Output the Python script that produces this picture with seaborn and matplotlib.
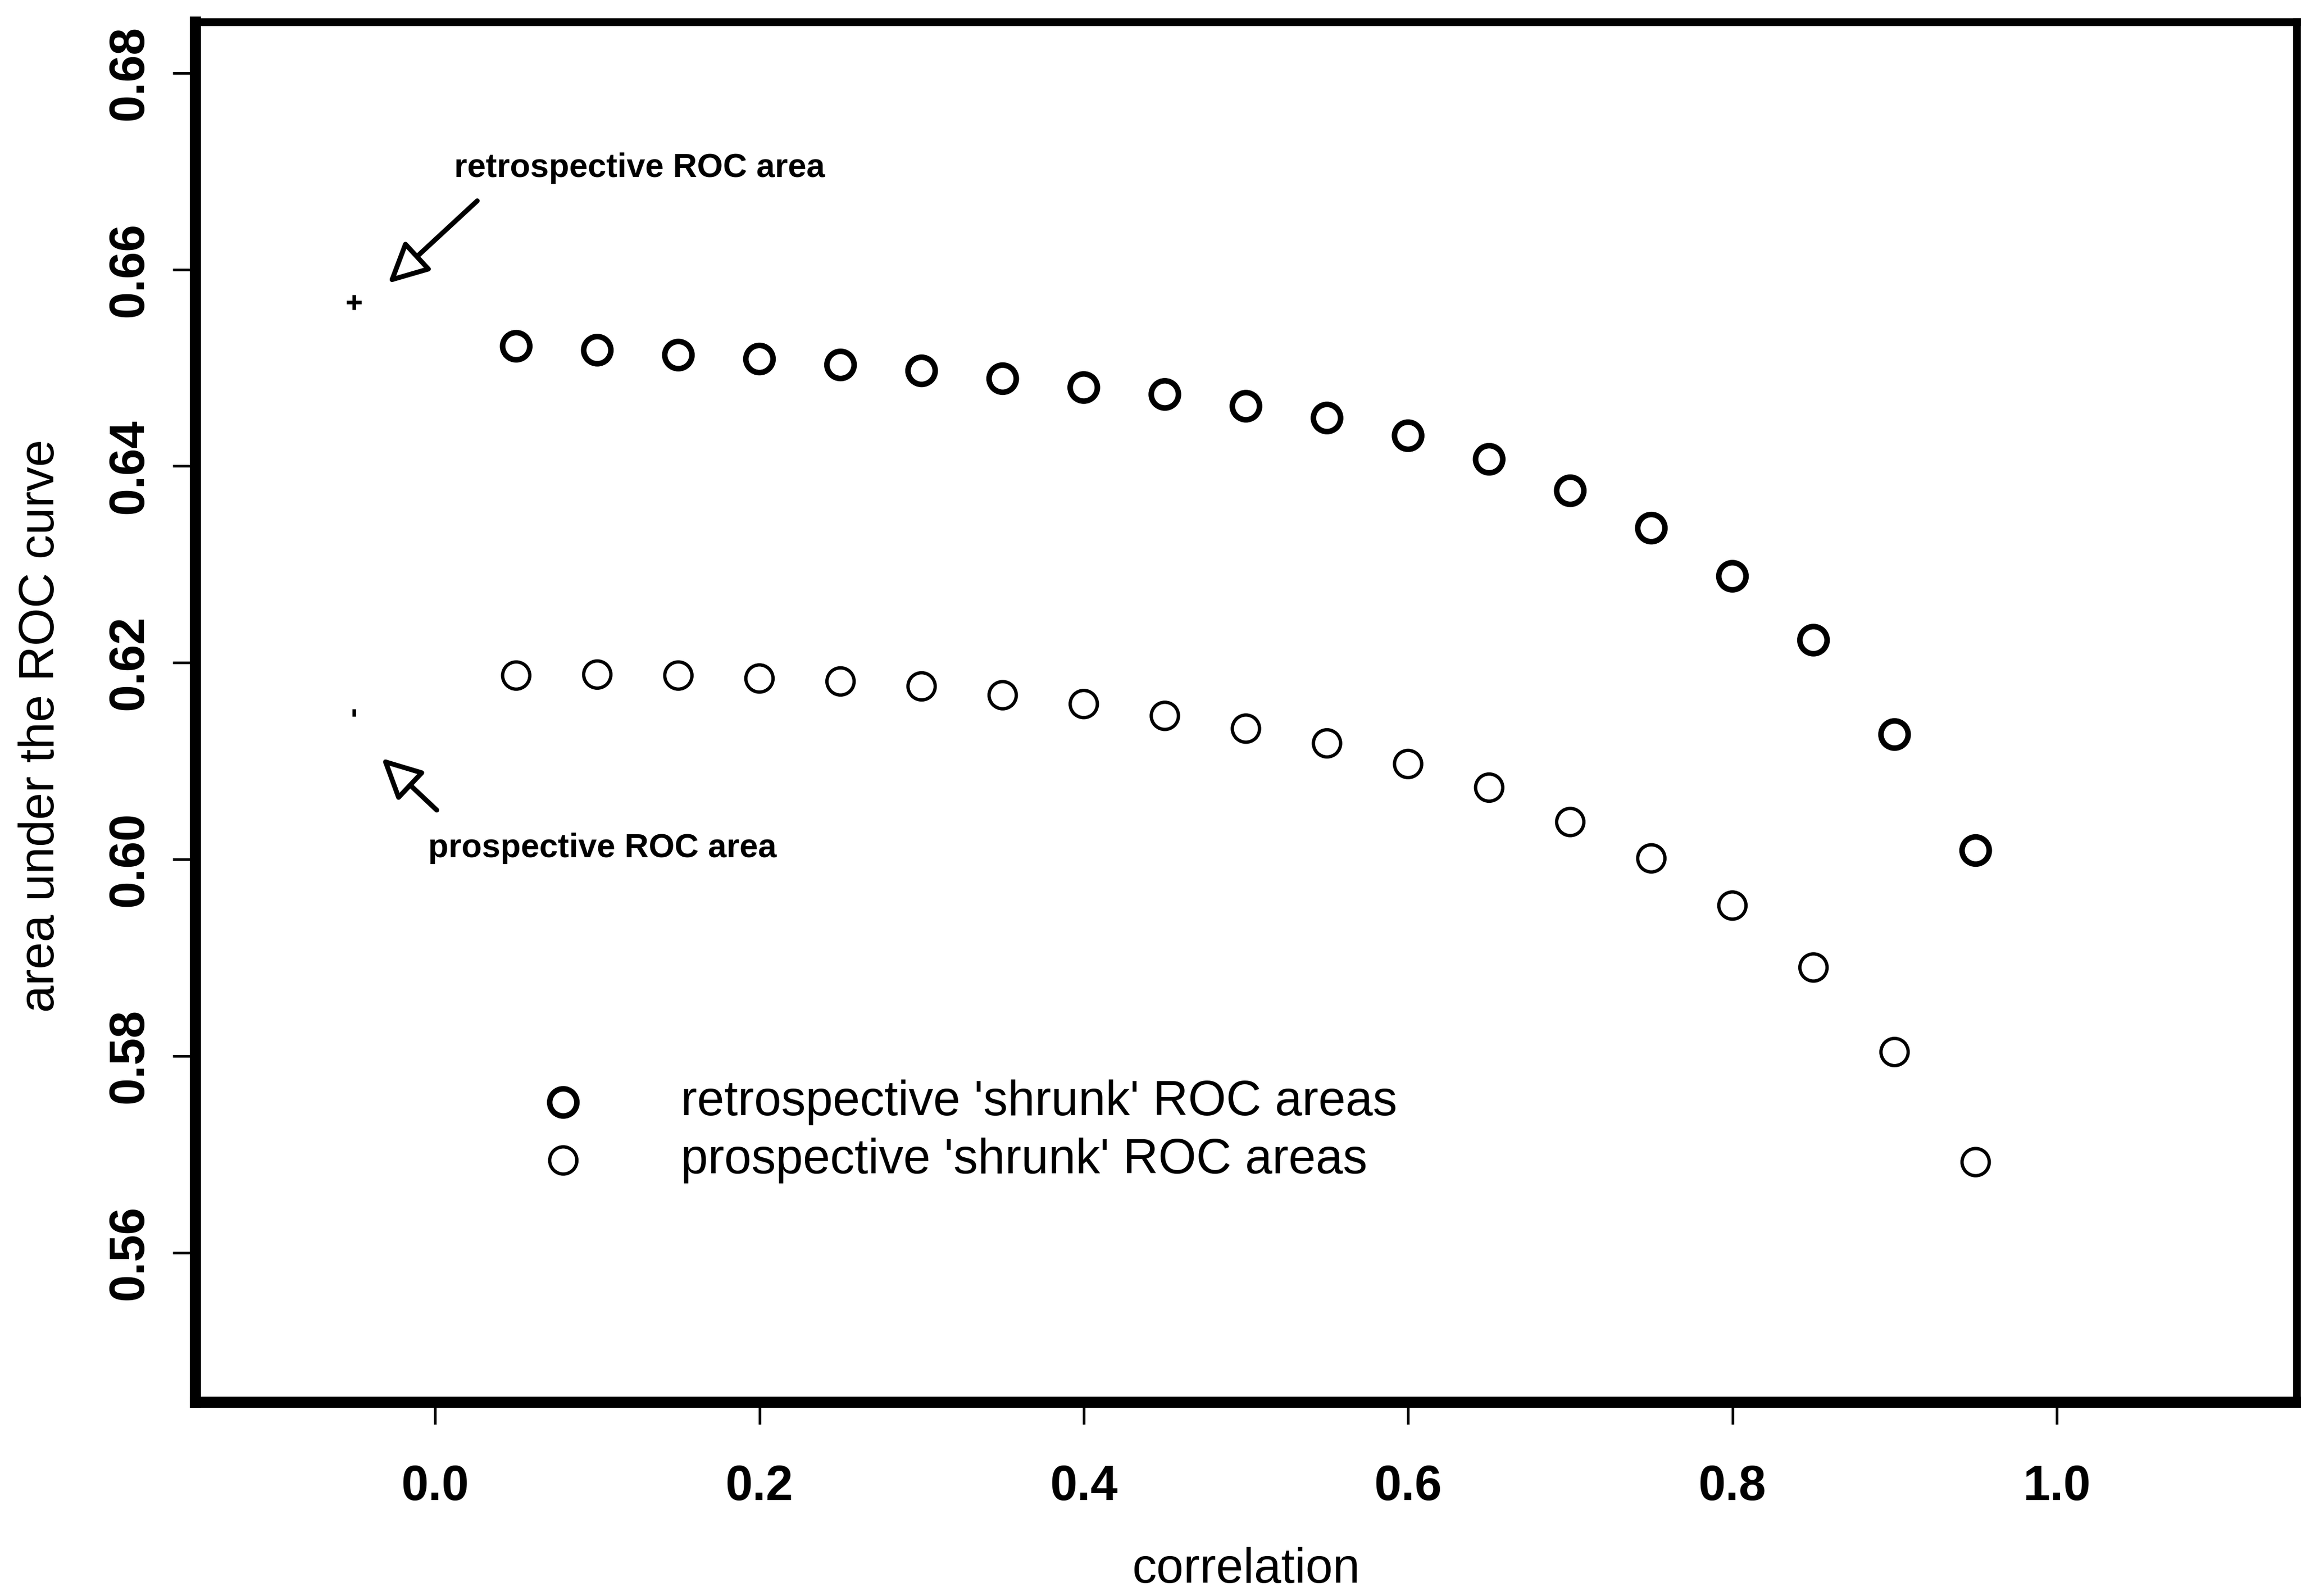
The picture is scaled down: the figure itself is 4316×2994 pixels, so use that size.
import pandas as pd
import seaborn as sns
import matplotlib.pyplot as plt

# correlation grid shared by both series
correlation = [0.05, 0.10, 0.15, 0.20, 0.25, 0.30, 0.35, 0.40, 0.45, 0.50,
               0.55, 0.60, 0.65, 0.70, 0.75, 0.80, 0.85, 0.90, 0.95]

retro_shrunk = [0.6522, 0.6518, 0.6513, 0.6509, 0.6503, 0.6497, 0.6489, 0.6480, 0.6473, 0.6461,
                0.6449, 0.6431, 0.6407, 0.6375, 0.6337, 0.6288, 0.6223, 0.6127, 0.6009]
pros_shrunk = [0.6187, 0.6188, 0.6187, 0.6184, 0.6181, 0.6176, 0.6167, 0.6158, 0.6146, 0.6133,
               0.6118, 0.6097, 0.6073, 0.6038, 0.6001, 0.5953, 0.5890, 0.5804, 0.5692]

# unshrunk reference areas, plotted left of zero
ref_x = [-0.05]
retro_ref = [0.6567]
pros_ref = [0.6149]

x_ticks = [0.0, 0.2, 0.4, 0.6, 0.8, 1.0]
y_ticks = [0.56, 0.58, 0.60, 0.62, 0.64, 0.66, 0.68]

legend_labels = ["retrospective 'shrunk' ROC areas", "prospective 'shrunk' ROC areas"]

df = pd.DataFrame({"correlation": correlation, "retro": retro_shrunk, "pros": pros_shrunk})
ref = pd.DataFrame({"correlation": ref_x, "retro": retro_ref, "pros": pros_ref})

sns.set_style("white", rc={"text.color": "black", "axes.labelcolor": "black",
                           "xtick.color": "black", "ytick.color": "black"})
plt.rcParams["font.family"] = ["Liberation Sans", "DejaVu Sans"]

fig = plt.figure(figsize=(4316 / 300, 2994 / 300), dpi=300)
ax = fig.add_axes([366 / 4316, 1 - 2630 / 2994, 3942 / 4316, 2589 / 2994])

sns.scatterplot(data=df, x="correlation", y="retro", ax=ax, marker="o", s=150,
                facecolors="none", edgecolors="black", linewidths=2.5, label=legend_labels[0])
sns.scatterplot(data=df, x="correlation", y="pros", ax=ax, marker="o", s=150,
                facecolors="none", edgecolors="black", linewidths=1.5, label=legend_labels[1])
sns.scatterplot(data=ref, x="correlation", y="retro", ax=ax, marker="+", s=45,
                color="black", linewidths=1.6)
sns.scatterplot(data=ref, x="correlation", y="pros", ax=ax, marker="|", s=12,
                color="black", linewidths=1.6)

ax.set_xlim(-0.148, 1.148)
ax.set_ylim(0.5448, 0.6852)
ax.set_xticks(x_ticks)
ax.set_xticklabels([f"{t:.1f}" for t in x_ticks], fontsize=22, fontweight="bold")
ax.set_yticks(y_ticks)
ax.set_yticklabels([f"{t:.2f}" for t in y_ticks], fontsize=22, fontweight="bold",
                   rotation=90, va="center")

ax.tick_params(axis="both", direction="out", length=10, width=1.2, color="black",
               labelcolor="black", bottom=True, left=True, top=False, right=False)
ax.tick_params(axis="x", pad=18)
ax.tick_params(axis="y", pad=9)

for side, spine in ax.spines.items():
    spine.set_color("black")
    spine.set_linewidth(5 if side in ("left", "bottom") else 3.5)

ax.set_xlabel("correlation", fontsize=22, color="black")
ax.xaxis.set_label_coords(0.5, -0.1217)
ax.xaxis.label.set_va("center")
ax.set_ylabel("area under the ROC curve", fontsize=22, color="black")
ax.yaxis.set_label_coords(-0.0733, 0.49)
ax.yaxis.label.set_va("center")

# arrows pointing at the unshrunk areas
ax.annotate("", xy=(-0.031, 0.6583), xytext=(0.028, 0.6673),
            arrowprops=dict(arrowstyle="-|>", fc="white", ec="black", lw=2.2, mutation_scale=38))
ax.text(0.126, 0.6703, "retrospective ROC area", fontsize=15, fontweight="bold",
        color="black", ha="center", va="center")
ax.annotate("", xy=(-0.035, 0.6106), xytext=(0.003, 0.6047),
            arrowprops=dict(arrowstyle="-|>", fc="white", ec="black", lw=2.2, mutation_scale=38))
ax.text(0.103, 0.6011, "prospective ROC area", fontsize=15, fontweight="bold",
        color="black", ha="center", va="center")

handles, labels = ax.get_legend_handles_labels()
leg = ax.legend(handles[:2], labels[:2], loc="center left", bbox_to_anchor=(0.131, 0.196),
                frameon=False, fontsize=22, handlelength=2.0, handletextpad=1.4,
                labelspacing=0.25, borderpad=0.4)
for t in leg.get_texts():
    t.set_color("black")

fig.savefig("out.png", dpi=300, facecolor="white")
